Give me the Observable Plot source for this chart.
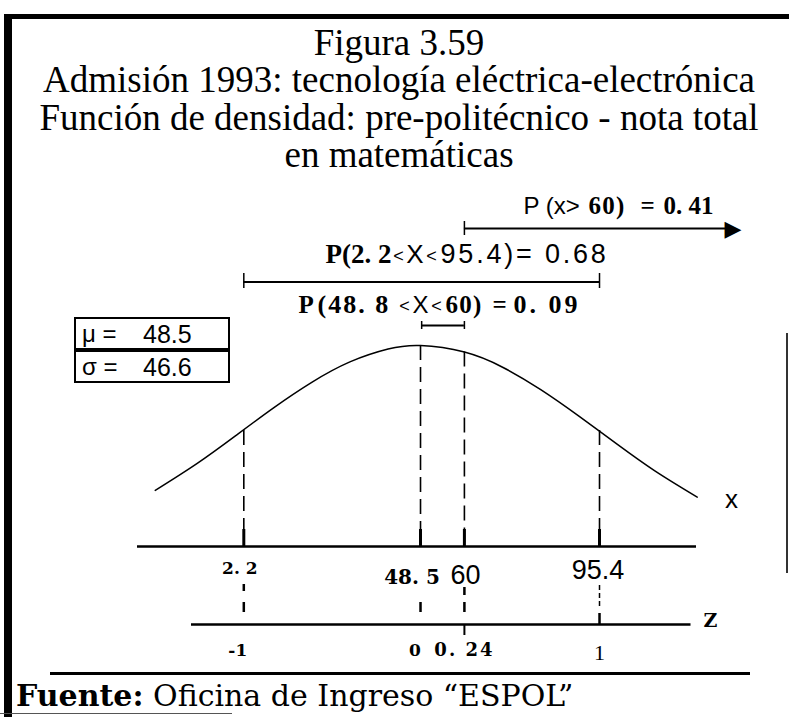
<!DOCTYPE html>
<html><head><meta charset="utf-8">
<script src="https://cdn.jsdelivr.net/npm/d3@7"></script>
<script src="https://cdn.jsdelivr.net/npm/@observablehq/plot@0.6"></script>
<style>
html,body{margin:0;padding:0;background:#fff;}
#page{position:relative;width:789px;height:717px;overflow:hidden;background:#fff;}
.bar{position:absolute;background:#000;}
#title{position:absolute;left:0;top:24px;width:798px;text-align:center;font-family:"Liberation Serif","Times New Roman",serif;font-size:37px;line-height:37.3px;color:#000;white-space:nowrap;}
#chart{position:absolute;left:0;top:185px;}
#chart svg{overflow:visible;}
.box{position:absolute;left:74px;width:152px;height:29px;border:2px solid #000;font-family:"Liberation Sans",Arial,sans-serif;font-size:24px;color:#000;}
.box .k{position:absolute;left:6px;top:1px;}
.box .v{position:absolute;left:67px;top:1px;font-size:25px;}
#source{position:absolute;left:16px;top:681px;font-family:"DejaVu Serif",serif;font-size:30px;line-height:30px;color:#000;white-space:nowrap;}
</style></head><body>
<div id="page">
  <div class="bar" style="left:5px;top:14px;width:784px;height:5px;"></div>
  <div class="bar" style="left:4px;top:14px;width:8px;height:703px;"></div>
  <div class="bar" style="left:786px;top:333px;width:2px;height:240px;background:#333;"></div>
  <div class="bar" style="left:0px;top:713px;width:232px;height:1px;background:#555;"></div>
  <div id="title"></div>
  <div id="chart"></div>
  <div class="box" id="boxMu" style="top:317px;"><span class="k"></span><span class="v"></span></div>
  <div class="box" id="boxSigma" style="top:350px;"><span class="k"></span><span class="v"></span></div>
  <div class="bar" style="left:50px;top:672px;width:700px;height:3px;"></div>
  <div id="source"><b>Fuente:</b> Oficina de Ingreso “ESPOL”</div>
</div>
<script>
// ---------- data ----------
const titleLines = ["Figura 3.59", "Admisión 1993: tecnología eléctrica-electrónica", "Función de densidad: pre-politécnico - nota total", "en matemáticas"];
const mu = 48.5;
const sigma = 46.6;
// density curve (x = nota, density)
const curveX = [-21, -10, 0, 10, 20, 30, 40, 48.5, 60, 70, 80, 90, 100, 110, 121];
const curveDensity = [0.00282, 0.00389, 0.00498, 0.00609, 0.00710, 0.00791, 0.00842, 0.00856, 0.00830, 0.00770, 0.00681, 0.00576, 0.00465, 0.00358, 0.00255];
// reference values
const refX = [2.2, 48.5, 60, 95.4];
const refDensity = [0.00519, 0.00856, 0.00830, 0.00519];
const xTickLabels = ["2. 2", "48. 5", "60", "95.4"];
const zTickLabels = ["-1", "0", "0. 24", "1"];
// probabilities
const probP60 = 0.41, probP68 = 0.68, probP09 = 0.09;
const bracket68 = [2.2, 95.4];
const bracket09 = [48.8, 60];
const arrowStart = 60;

// ---------- layout ----------
document.getElementById("title").innerHTML = titleLines.join("<br>");
document.querySelector("#boxMu .k").textContent = "μ =";
document.querySelector("#boxMu .v").textContent = mu.toFixed(1);
document.querySelector("#boxSigma .k").textContent = "σ =";
document.querySelector("#boxSigma .v").textContent = sigma.toFixed(1);

const W = 789, H = 483;
const xDomain = [-61.55, 145.18];
const yDomain = [-0.004241, 0.014902];
const xAt = px => xDomain[0] + px / W * (xDomain[1] - xDomain[0]);
const yAt = px => yDomain[1] - px / H * (yDomain[1] - yDomain[0]);

const SANS = "Liberation Sans, Arial, sans-serif";
const CENT = "DejaVu Serif, serif";
const TIMES = "Liberation Serif, Times New Roman, serif";

const curve = curveX.map((x, i) => ({x, y: curveDensity[i]}));
const refs = refX.map((x, i) => ({x, y: refDensity[i]}));

const xAxisY = yAt(361), zAxisY = yAt(439);
const xAxisRange = [xAt(137), xAt(696)];
const zAxisRange = [xAt(191), xAt(690.5)];

function txt(t, x, ypx, o) {
  return Plot.text([t], {x, y: yAt(ypx), text: d => d, lineAnchor: "bottom", fill: "#000", ...o});
}

const fmtSp = v => v.toFixed(2).replace(".", ". ");
// annotation pieces: text, x (px), anchor, baseline (px), font, size, weight, letter spacing
const pieces = [
  {t: "P (x>", x: 523, b: 28, f: SANS, s: 24},
  {t: `${arrowStart})`, x: 588, b: 28, f: TIMES, s: 25, w: "bold", ls: 1.3},
  {t: "=", x: 640, b: 28, f: TIMES, s: 25, w: "bold"},
  {t: fmtSp(probP60), x: 663, b: 28, f: TIMES, s: 25, w: "bold"},
  {t: `P(${fmtSp(bracket68[0]).slice(0, 4)}`, x: 325, b: 77, f: TIMES, s: 27, w: "bold"},
  {t: "<", x: 398, a: "middle", b: 76, f: SANS, s: 18},
  {t: "X", x: 414.5, a: "middle", b: 77, f: SANS, s: 26},
  {t: "<", x: 431, a: "middle", b: 76, f: SANS, s: 18},
  {t: `${bracket68[1]})= ${probP68.toFixed(2)}`, x: 440, b: 77, f: SANS, s: 27, ls: 2.8},
  {t: "P", x: 298, b: 127, f: TIMES, s: 25, w: "bold"},
  {t: `(${bracket09[0].toFixed(1).replace(".", ". ")}`, x: 317, b: 127, f: TIMES, s: 26, w: "bold", ls: 2},
  {t: "<", x: 404, a: "middle", b: 126, f: SANS, s: 18},
  {t: "X", x: 420, a: "middle", b: 127, f: SANS, s: 24},
  {t: "<", x: 436, a: "middle", b: 126, f: SANS, s: 18},
  {t: `${bracket09[1]})`, x: 445, b: 127, f: TIMES, s: 25, w: "bold", ls: 1.3},
  {t: "=", x: 492, b: 127, f: TIMES, s: 25, w: "bold"},
  {t: fmtSp(probP09), x: 513, b: 127, f: TIMES, s: 26, w: "bold", ls: 3}
];

// label styles per reference
const xLabStyle = [
  {font: CENT, size: 17, weight: "bold", dx: -4, base: 388},
  {font: CENT, size: 20, weight: "bold", dx: -8.5, base: 398},
  {font: SANS, size: 27, weight: "normal", dx: 1, base: 398},
  {font: SANS, size: 27, weight: "normal", dx: -1.5, base: 393}
];
const zLabStyle = [
  {font: CENT, size: 17, weight: "bold", dx: -6, base: 470},
  {font: CENT, size: 17, weight: "bold", dx: -5.5, base: 470},
  {font: CENT, size: 18, weight: "bold", dx: 0, base: 470, ls: 2},
  {font: TIMES, size: 22, weight: "normal", dx: 0, base: 474}
];
const lowerDash = [
  {y1: 399, y2: 427, dash: "7,11,10", w: 2.5},
  {y1: 417, y2: 427, dash: null, w: 2.5},
  {y1: 402, y2: 427, dash: "8,7,10", w: 2.5},
  {y1: 400, y2: 422, dash: "5,3", w: 1.5}
];

const spacing = new Map();
const marks = [
  // curve
  Plot.line(curve, {x: "x", y: "y", curve: "natural", stroke: "#000", strokeWidth: 1.5}),
  // dashed verticals
  Plot.ruleX(refs, {x: "x", y1: "y", y2: xAxisY, stroke: "#000", strokeWidth: 1.6, strokeDasharray: "15,7"}),
  Plot.ruleX(refs, {x: "x", y1: yAt(344), y2: xAxisY, stroke: "#000", strokeWidth: 3}),
  // x axis line
  Plot.ruleY([xAxisY], {x1: xAxisRange[0], x2: xAxisRange[1], stroke: "#000", strokeWidth: 2.5}),
  // z axis line
  Plot.ruleY([zAxisY], {x1: zAxisRange[0], x2: zAxisRange[1], stroke: "#000", strokeWidth: 2.5}),
  Plot.ruleX([refX[2]], {y1: yAt(440), y2: yAt(450), stroke: "#000", strokeWidth: 2}),
  Plot.ruleX([refX[3]], {y1: yAt(428), y2: zAxisY, stroke: "#000", strokeWidth: 2.5}),
  txt("x", xAt(731), 322, {fontFamily: SANS, fontSize: 26, textAnchor: "middle"}),
  txt("Z", xAt(703), 441, {fontFamily: CENT, fontSize: 19, fontWeight: "bold", textAnchor: "start"}),
  // arrow P(x>60)
  Plot.ruleY([yAt(43)], {x1: arrowStart, x2: xAt(728), stroke: "#000", strokeWidth: 2}),
  Plot.ruleX([arrowStart], {y1: yAt(36), y2: yAt(50), stroke: "#000", strokeWidth: 1.5}),
  Plot.text(["▶"], {x: xAt(741), y: yAt(43), text: d => d, fontFamily: "DejaVu Sans", fontSize: 22, textAnchor: "end", lineAnchor: "middle", fill: "#000"}),
  // bracket 0.68
  Plot.ruleY([yAt(96.5)], {x1: bracket68[0], x2: bracket68[1], stroke: "#000", strokeWidth: 2}),
  Plot.ruleX(bracket68, {y1: yAt(88), y2: yAt(103), stroke: "#000", strokeWidth: 1.5}),
  // bracket 0.09
  Plot.ruleY([yAt(140)], {x1: bracket09[0], x2: bracket09[1], stroke: "#000", strokeWidth: 2}),
  Plot.ruleX(bracket09, {y1: yAt(136), y2: yAt(144), stroke: "#000", strokeWidth: 1.5})
];

pieces.forEach(p => {
  marks.push(txt(p.t, xAt(p.x), p.b, {fontFamily: p.f, fontSize: p.s, fontWeight: p.w || "normal", textAnchor: p.a || "start"}));
  if (p.ls) spacing.set(p.t, p.ls);
});

refX.forEach((v, i) => {
  const s = xLabStyle[i];
  marks.push(txt(xTickLabels[i], v, s.base, {fontFamily: s.font, fontSize: s.size, fontWeight: s.weight, textAnchor: "middle", dx: s.dx}));
  const z = zLabStyle[i];
  marks.push(txt(zTickLabels[i], v, z.base, {fontFamily: z.font, fontSize: z.size, fontWeight: z.weight, textAnchor: "middle", dx: z.dx}));
  if (z.ls) spacing.set(zTickLabels[i], z.ls);
  const d = lowerDash[i];
  marks.push(Plot.ruleX([v], {y1: yAt(d.y1), y2: yAt(d.y2), stroke: "#000", strokeWidth: d.w, strokeDasharray: d.dash || undefined}));
});

const chart = Plot.plot({
  width: W, height: H,
  marginTop: 0, marginRight: 0, marginBottom: 0, marginLeft: 0,
  x: {domain: xDomain, axis: null},
  y: {domain: yDomain, axis: null},
  style: {background: "transparent", overflow: "visible"},
  marks
});
chart.querySelectorAll("text").forEach(el => {
  const ls = spacing.get(el.textContent);
  if (ls) el.setAttribute("letter-spacing", ls);
});
document.getElementById("chart").appendChild(chart);
</script>
</body></html>
